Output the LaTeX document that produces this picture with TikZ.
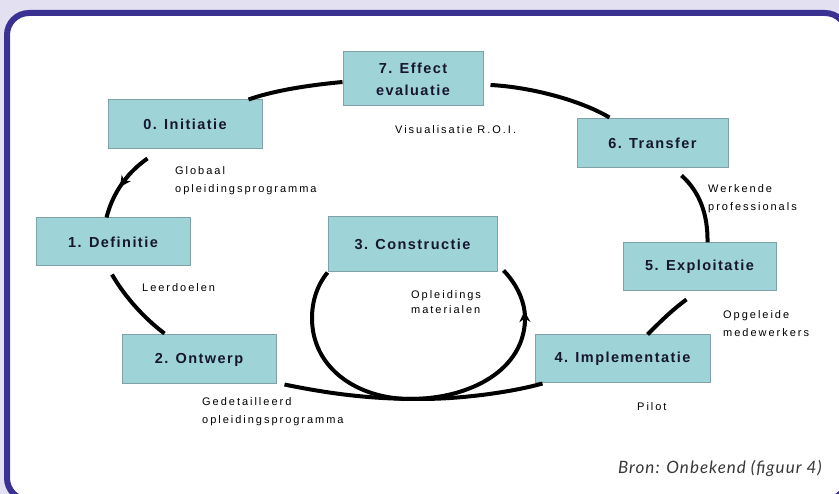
\documentclass[tikz,border=0pt]{standalone}
\usepackage{fontspec}
\setmainfont{Liberation Sans}
\newfontfamily\bronfont{Lato}
\usetikzlibrary{arrows.meta}
\definecolor{bgl}{HTML}{E2E0F1}
\definecolor{framec}{HTML}{3A3192}
\definecolor{boxf}{HTML}{9ED3D7}
\definecolor{boxd}{HTML}{7FA2A6}
\definecolor{boxt}{HTML}{161630}
\begin{document}
\begin{tikzpicture}[x=1pt,y=-1pt,
  stagebox/.style={draw=boxd, fill=boxf, line width=1pt, inner sep=0pt,
    font=\fontsize{14.5}{22}\selectfont\bfseries\addfontfeature{LetterSpace=10},
    text=boxt, align=center},
  lbl/.style={anchor=west, align=left, inner sep=0pt,
    font=\fontsize{11}{18}\selectfont\addfontfeature{LetterSpace=18}, text=black},
  conn/.style={line width=4pt, black},
  tipline/.style={line width=3pt, black, -{Stealth[length=11pt,width=11pt]}}]
\useasboundingbox (0,0) rectangle (839,494);
\fill[bgl] (0,0) rectangle (839,494);
\begin{scope}
  \clip (0,0) rectangle (839,494);
  \draw[framec, line width=6pt, fill=white, rounded corners=22pt] (7,13) rectangle (847,500);
\end{scope}

% stage boxes
\node[stagebox, minimum width=154pt, minimum height=49pt] (c0) at (185,124.5) {0. Initiatie};
\node[stagebox, minimum width=140pt, minimum height=54pt] (c7) at (413,79) {7. Effect\\evaluatie};
\node[stagebox, minimum width=151pt, minimum height=49pt] (c6) at (652.5,143.5) {6. Transfer};
\node[stagebox, minimum width=154pt, minimum height=48pt] (c1) at (113,242) {1. Definitie};
\node[stagebox, minimum width=169pt, minimum height=55pt] (c3) at (412.5,244.5) {3. Constructie};
\node[stagebox, minimum width=153pt, minimum height=48pt] (c5) at (699.5,267) {5. Exploitatie};
\node[stagebox, minimum width=154pt, minimum height=49pt] (c2) at (199,359.5) {2. Ontwerp};
\node[stagebox, minimum width=175pt, minimum height=48pt] (c4) at (622.5,359) {4. Implementatie};

% connectors
\draw[conn] ([shift={(0,3)}]c7.west) .. controls (300,86) and (270,92) .. ([shift={(-14,0)}]c0.north east);
\draw[conn] ([shift={(7,6)}]c7.east) .. controls (530,87) and (580,100) .. ([shift={(33,-1)}]c6.north west);
\draw[conn] ([shift={(40,9)}]c0.south west) .. controls (128,172) and (113,192) .. ([shift={(71,0)}]c1.north west);
\coordinate (a1s) at (129,174);
\coordinate (a1e) at (120,187);
\draw[tipline] (a1s) -- (a1e);
\draw[conn] ([shift={(-1,8)}]c1.south) .. controls (122,292) and (140,315) .. ([shift={(43,-1)}]c2.north west);
\draw[conn] ([shift={(105,7)}]c6.south west) .. controls (700,192) and (708,215) .. ([shift={(85,0)}]c5.north west);
\draw[conn] ([shift={(64,8)}]c5.south west) .. controls (672,310) and (660,322) .. ([shift={(113,0)}]c4.north west);
\draw[conn] ([shift={(8,0)}]c2.south east) .. controls (340,396) and (380,399) .. (420,399)
  .. controls (470,399) and (520,390) .. ([shift={(8,0)}]c4.south west);
\draw[conn] (c3.south west) .. controls (318,284) and (312,300) .. (312,318)
  .. controls (312,370) and (360,399) .. (410,399)
  .. controls (470,399) and (525,370) .. (525,318)
  .. controls (525,300) and (515,282) .. ([shift={(6,-2)}]c3.south east);
\coordinate (a2s) at (525,326);
\coordinate (a2e) at (524.5,311);
\draw[tipline] (a2s) -- (a2e);

% labels
\node[lbl] (l1) at (175,180.5) {Globaal\\opleidingsprogramma};
\node[lbl] (l2) at (395,130) {Visualisatie R.O.I.};
\node[lbl] (l3) at (708,198.5) {Werkende\\professionals};
\node[lbl] (l4) at (142,288) {Leerdoelen};
\node[lbl, font=\fontsize{11}{15}\selectfont\addfontfeature{LetterSpace=18}] (l5) at (411,302.5) {Opleidings\\materialen};
\node[lbl] (l6) at (723,323.5) {Opgeleide\\medewerkers};
\node[lbl] (l7) at (202,412) {Gedetailleerd\\opleidingsprogramma};
\node[lbl] (l8) at (637,407) {Pilot};
\node[anchor=east, inner sep=0pt, text=black!78, font={\bronfont\fontsize{17}{20}\selectfont\itshape\addfontfeature{LetterSpace=6}}] (src) at (822,468) {Bron: Onbekend (figuur 4)};
\end{tikzpicture}
\end{document}
